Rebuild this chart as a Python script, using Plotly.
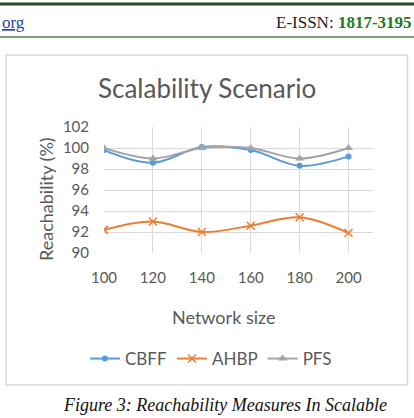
import plotly.graph_objects as go

network_size = [100, 120, 140, 160, 180, 200]
cbff = [99.8, 98.6, 100.1, 99.8, 98.3, 99.2]
ahbp = [92.2, 93.0, 92.0, 92.6, 93.4, 91.9]
pfs = [100.0, 99.0, 100.0, 100.0, 99.0, 100.0]
y_ticks = [90, 92, 94, 96, 98, 100, 102]

W, H = 414, 418
L, R, T, B = 104, 373, 127, 253

def px(x):
    return (x - L) / (R - L)

def py(y):
    return (B - y) / (B - T)

fig = go.Figure()
fig.add_trace(go.Scatter(x=network_size, y=cbff, name="CBFF", mode="lines+markers",
                         line=dict(color="#5B9BD5", width=2, shape="spline"),
                         marker=dict(symbol="circle", size=6, color="#5B9BD5")))
fig.add_trace(go.Scatter(x=network_size, y=ahbp, name="AHBP", mode="lines+markers",
                         line=dict(color="#ED7D31", width=2, shape="spline"),
                         marker=dict(symbol="x-thin", size=8, line=dict(color="#ED7D31", width=1.5))))
fig.add_trace(go.Scatter(x=network_size, y=pfs, name="PFS", mode="lines+markers",
                         line=dict(color="#A5A5A5", width=2, shape="spline"),
                         marker=dict(symbol="triangle-up", size=8, color="#A5A5A5")))

tick_font = dict(family="Lato, Carlito, sans-serif", size=15, color="#595959")
title_font = dict(family="Lato, Carlito, sans-serif", size=18, color="#595959")
legend_font = dict(family="Lato, Carlito, sans-serif", size=17, color="#595959")

fig.update_layout(
    width=W, height=H,
    margin=dict(l=L, r=W - R, t=T, b=H - B, pad=0),
    paper_bgcolor="white", plot_bgcolor="white",
    showlegend=True,
    legend=dict(orientation="h", x=px(211), xanchor="center", y=py(359), yanchor="middle",
                font=legend_font, itemwidth=30, tracegroupgap=0),
    xaxis=dict(range=[100, 210], tickvals=network_size, showgrid=True, gridcolor="#D9D9D9",
               gridwidth=1, zeroline=False, showline=False, tickfont=tick_font,
               ticks="", ticklabelstandoff=14),
    yaxis=dict(range=[90, 102], tickvals=y_ticks, showgrid=True, gridcolor="#D9D9D9",
               gridwidth=1, zeroline=False, showline=False, tickfont=tick_font,
               ticks="", ticklabelstandoff=14),
    font=dict(family="Lato, sans-serif"),
)

# Chart border
fig.add_shape(type="rect", xref="paper", yref="paper",
              x0=px(6), x1=px(407.5), y0=py(385), y1=py(55),
              line=dict(color="#D9D9D9", width=1.5), layer="below")
# Header lines
fig.add_shape(type="line", xref="paper", yref="paper", x0=px(0), x1=px(414), y0=py(4), y1=py(4),
              line=dict(color="#1E4D1E", width=3))
fig.add_shape(type="line", xref="paper", yref="paper", x0=px(0), x1=px(414), y0=py(37), y1=py(37),
              line=dict(color="#4F7F4F", width=1.5))

ann = [
    dict(text="Scalability Scenario", x=px(207), y=py(88),
         font=dict(family="Lato, sans-serif", size=26, color="#595959")),
    dict(text="Network size", x=px(223), y=py(317), font=title_font),
    dict(text="Reachability (%)", x=px(46), y=py(199), textangle=-90, font=title_font),
    dict(text="<u>org</u>", x=px(0), y=py(22), xanchor="left",
         font=dict(family="Liberation Serif, serif", size=17, color="#1F3FAF")),
    dict(text="E-ISSN: <b><span style='color:#1B7A1B'>1817-3195</span></b>", x=px(414), y=py(22),
         xanchor="right", font=dict(family="Liberation Serif, serif", size=17, color="#222222")),
    dict(text="<i>Figure 3: Reachability Measures In Scalable</i>", x=px(225), y=py(405),
         font=dict(family="Liberation Serif, serif", size=18, color="#111111")),
]
for a in ann:
    a.setdefault("xanchor", "center")
    fig.add_annotation(xref="paper", yref="paper", yanchor="middle", showarrow=False, **a)

fig.write_html("out.html")
